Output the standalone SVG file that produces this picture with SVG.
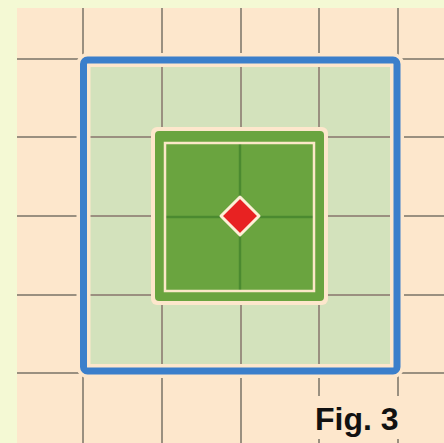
<svg xmlns="http://www.w3.org/2000/svg" width="444" height="443" viewBox="0 0 444 443">
<style>
.grid{stroke:#9a9080;stroke-width:2;fill:none}
.halo{fill:none;stroke:#fde7cc}
</style>
<rect x="0" y="0" width="444" height="443" fill="#f4f9d4"/>
<rect x="17" y="8" width="427" height="435" fill="#fde7cc"/>
<rect id="field" x="83.5" y="60" width="313.5" height="311" fill="#d3e2bc"/>
<g id="grid" class="grid">
  <path d="M83 8V443M162 8V443M241 8V443M319 8V443M398 8V443"/>
  <path d="M17 59H444M17 137H444M17 216H444M17 295H444M17 373H444"/>
</g>
<g id="outer-square">
  <rect class="halo" x="83.5" y="60" width="313.5" height="311" rx="4" stroke-width="14"/>
  <rect x="83.5" y="60" width="313.5" height="311" rx="4" fill="none" stroke="#3b7fcb" stroke-width="7"/>
</g>
<g id="inner-square">
  <rect x="151" y="127" width="177" height="178" rx="6" fill="#fde7cc"/>
  <rect x="155" y="131" width="169" height="170" rx="4" fill="#6aa43f"/>
  <path d="M240 143V291M165 217H314" stroke="#4b8a30" stroke-width="2.5" fill="none"/>
  <rect x="165" y="143" width="149" height="148" fill="none" stroke="#fbe8c8" stroke-width="2.5"/>
</g>
<g id="center">
  <path d="M240 197L259 216L240 235L221 216Z" fill="#e82222" stroke="#fdf0d8" stroke-width="3" stroke-linejoin="round"/>
</g>
<g id="label">
  <rect x="309" y="396" width="100" height="43" fill="#fde7cc"/>
  <text x="315" y="430" font-family="Liberation Sans, Arial, sans-serif" font-weight="bold" font-size="32" fill="#111">Fig. 3</text>
</g>
</svg>
